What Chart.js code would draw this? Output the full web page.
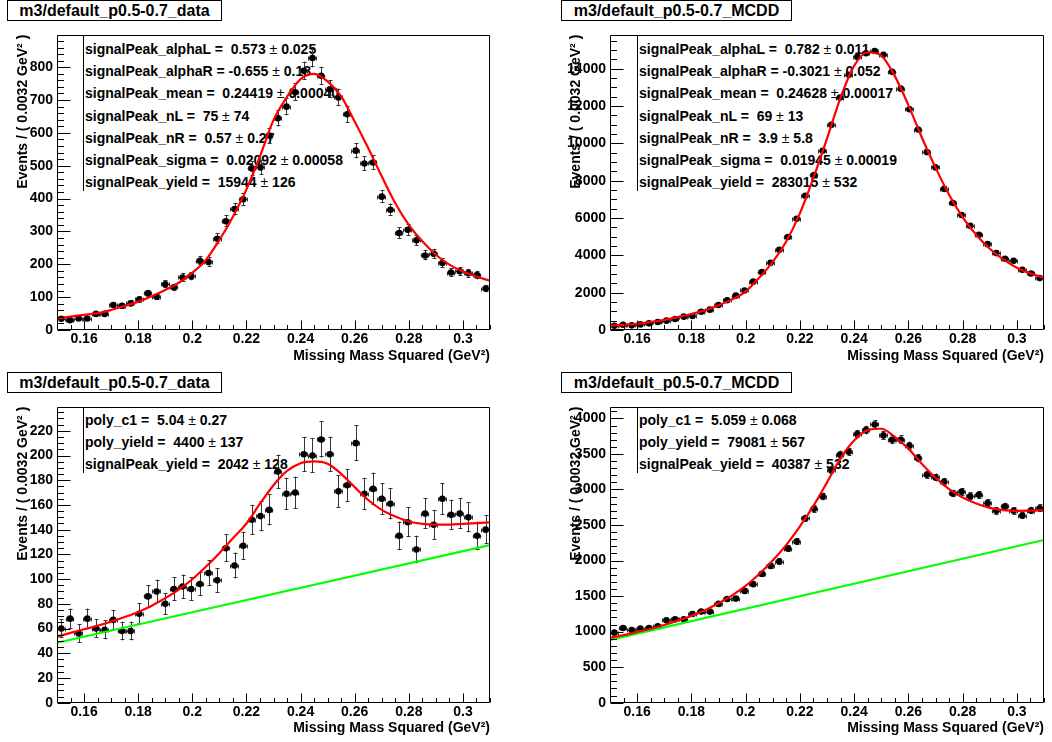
<!DOCTYPE html>
<html><head><meta charset="utf-8">
<script src="https://cdn.jsdelivr.net/npm/chart.js@4.4.1/dist/chart.umd.min.js"></script>
<style>
html,body{margin:0;padding:0;background:#fff;}
body{width:1052px;height:742px;position:relative;overflow:hidden;font-family:"Liberation Sans",Arial,Helvetica,sans-serif;}
.pad{position:absolute;width:526px;height:371px;}
.pad canvas{position:absolute;left:0;top:0;z-index:2;}
.title{position:absolute;border:1px solid #000;background:#fff;font:bold 16px "Liberation Sans",Arial,sans-serif;text-align:center;line-height:19px;box-sizing:border-box;z-index:3;color:#000;}
.stats{position:absolute;z-index:1;border-left:1.5px solid #000;}
.stats div{position:absolute;left:1px;white-space:pre;font:bold 14px "Liberation Sans",Arial,sans-serif;line-height:16px;color:#000;}
.stats span{font-weight:normal;}
</style></head>
<body>
<script>
// ---------------- data ----------------
const binCenters = [0.1516,0.1548,0.1580,0.1612,0.1644,0.1676,0.1708,0.1740,0.1772,0.1804,
 0.1836,0.1868,0.1900,0.1932,0.1964,0.1996,0.2028,0.2060,0.2092,0.2124,
 0.2156,0.2188,0.2220,0.2252,0.2284,0.2316,0.2348,0.2380,0.2412,0.2444,
 0.2476,0.2508,0.2540,0.2572,0.2604,0.2636,0.2668,0.2700,0.2732,0.2764,
 0.2796,0.2828,0.2860,0.2892,0.2924,0.2956,0.2988,0.3020,0.3052,0.3084];
const binHalfWidth = 0.0016;
const xTickVals = [0.16,0.18,0.20,0.22,0.24,0.26,0.28,0.30];
const fitX = [0.150,0.155,0.160,0.165,0.170,0.175,0.180,0.185,0.190,0.195,0.200,0.205,0.210,0.215,0.220,0.225,0.230,0.235,0.240,0.245,0.250,0.255,0.260,0.265,0.270,0.275,0.280,0.285,0.290,0.295,0.300,0.305,0.310];
const bgX = [0.15, 0.31];

const p1Counts = [34,30,35,35,49,49,76,74,81,93, 112,101,139,130,160,164,211,207,278,331, 368,398,492,495,592,645,680,724,789,828, 774,733,708,657,546,507,510,406,366,295, 305,273,227,232,204,175,179,173,167,126];
const p1Errors = [5.8,5.5,5.9,5.9,7.0,7.0,8.7,8.6,9.0,9.6, 10.6,10.0,11.8,11.4,12.6,12.8,14.5,14.4,16.7,18.2, 19.2,19.9,22.2,22.2,24.3,25.4,26.1,26.9,28.1,28.8, 27.8,27.1,26.6,25.6,23.4,22.5,22.6,20.1,19.1,17.2, 17.5,16.5,15.1,15.2,14.3,13.2,13.4,13.2,12.9,11.2];
const p1Fit = [35,41,46,51,61,73,86,103,122,144,174,213,274,345,428,529,639,710,764,780,757,711,635,554,468,386,320,270,229,199,178,163,150];
const p1YTicks = [0,100,200,300,400,500,600,700,800];

const p2Counts = [230,285,250,300,355,430,500,590,715,750, 980,1090,1340,1590,1840,2120,2590,3100,3600,4300, 4980,5960,7190,8300,9600,10990,12450,13670,14630,14830, 14950,14740,13830,12930,11830,10740,9530,8710,7560,6800, 6160,5580,5100,4600,4120,3820,3710,3230,3030,2780];
const p2Errors = [15,17,16,17,19,21,22,24,27,27, 31,33,37,40,43,46,51,56,60,66, 71,77,85,91,98,105,112,117,121,122, 122,121,118,114,109,104,98,93,87,82, 78,75,71,68,64,62,61,57,55,53];
const p2Fit = [232,270,330,420,540,690,860,1060,1320,1640,2060,2800,3650,4750,6250,8150,10250,12450,14150,14880,14700,13600,12050,10300,8700,7250,6050,5100,4350,3780,3330,3030,2800];
const p2YTicks = [0,2000,4000,6000,8000,10000,12000,14000];

const p3Counts = [60,68,56,68,60,59,67,58,58,72, 86,90,80,92,94,92,96,105,99,125, 111,127,148,151,156,187,169,170,201,200, 213,201,171,176,210,169,173,165,161,135, 146,124,153,144,165,152,153,150,135,140];
const p3Errors = [7.7,8.2,7.5,8.2,7.7,7.7,8.2,7.6,7.6,8.5, 9.3,9.5,8.9,9.6,9.7,9.6,9.8,10.2,9.9,11.2, 10.5,11.3,12.2,12.3,12.5,13.7,13.0,13.0,14.2,14.1, 14.6,14.2,13.1,13.3,14.5,13.0,13.2,12.8,12.7,11.6, 12.1,11.1,12.4,12.0,12.8,12.3,12.4,12.2,11.6,11.8];
const p3Fit = [53.5,56.5,59.4,62.3,65.6,69.3,73.4,78.5,84.6,91.5,99.9,110,121,133,145,161,176,187.5,193.8,195.2,193.3,185.2,174.4,164,156,150.6,146.6,144.7,144.1,144.1,144.7,145.3,146];
const p3Bg = [48.5, 127.5];
const p3YTicks = [0,20,40,60,80,100,120,140,160,180,200,220];

const p4Counts = [986,1052,1023,1042,1052,1075,1160,1174,1174,1249, 1282,1282,1390,1460,1465,1573,1667,1812,1925,1986, 2169,2268,2596,2728,2901,3272,3488,3531,3779,3836, 3915,3761,3700,3700,3615,3441,3207,3169,3108,2944, 2967,2906,2925,2808,2700,2761,2700,2634,2704,2737];
const p4Errors = [31,32,32,32,32,33,34,34,34,35, 36,36,37,38,38,40,41,43,44,45, 47,48,51,52,54,57,59,59,61,62, 63,61,61,61,60,59,57,56,56,54, 54,54,54,53,52,53,52,51,52,52];
const p4Fit = [915,950,995,1040,1094,1155,1221,1300,1399,1510,1643,1810,2000,2220,2480,2770,3100,3440,3690,3835,3855,3740,3575,3360,3165,3005,2887,2803,2742,2709,2700,2702,2709];
const p4Bg = [885, 2290];
const p4YTicks = [0,500,1000,1500,2000,2500,3000,3500,4000];

const titleData = 'm3/default_p0.5-0.7_data';
const titleMC = 'm3/default_p0.5-0.7_MCDD';
const xTitle = 'Missing Mass Squared (GeV\u00B2)';
const yTitle = 'Events / ( 0.0032 GeV\u00B2 )';

const p1Stats = [['signalPeak_alphaL','0.573','0.025'],['signalPeak_alphaR','-0.655','0.18'],['signalPeak_mean','0.24419','0.00040'],['signalPeak_nL','75','74'],['signalPeak_nR','0.57','0.27'],['signalPeak_sigma','0.02092','0.00058'],['signalPeak_yield','15944','126']];
const p2Stats = [['signalPeak_alphaL','0.782','0.011'],['signalPeak_alphaR','-0.3021','0.052'],['signalPeak_mean','0.24628','0.00017'],['signalPeak_nL','69','13'],['signalPeak_nR','3.9','5.8'],['signalPeak_sigma','0.01945','0.00019'],['signalPeak_yield','283015','532']];
const p3Stats = [['poly_c1','5.04','0.27'],['poly_yield','4400','137'],['signalPeak_yield','2042','128']];
const p4Stats = [['poly_c1','5.059','0.068'],['poly_yield','79081','567'],['signalPeak_yield','40387','532']];

// ---------------- drawing ----------------
const FONT = '"Liberation Sans", Arial, Helvetica, sans-serif';

function rootPlugin(P) {
  return {
    id: 'rootLook',
    beforeDatasetsDraw(chart) {
      const ctx = chart.ctx, xs = chart.scales.x, ys = chart.scales.y;
      ctx.save();
      ctx.strokeStyle = '#333';
      ctx.lineWidth = 1;
      ctx.beginPath();
      for (let i = 0; i < binCenters.length; i++) {
        const v = P.counts[i], e = P.errors[i];
        const cx = Math.round(xs.getPixelForValue(binCenters[i])) + 0.5;
        const cy = Math.round(ys.getPixelForValue(v)) + 0.5;
        const xl = xs.getPixelForValue(binCenters[i] - binHalfWidth);
        const xr = xs.getPixelForValue(binCenters[i] + binHalfWidth);
        const yt = ys.getPixelForValue(v + e), yb = ys.getPixelForValue(v - e);
        ctx.moveTo(xl, cy); ctx.lineTo(xr, cy);
        ctx.moveTo(Math.round(xl) + 0.5, cy - 2); ctx.lineTo(Math.round(xl) + 0.5, cy + 2);
        ctx.moveTo(Math.round(xr) - 0.5, cy - 2); ctx.lineTo(Math.round(xr) - 0.5, cy + 2);
        ctx.moveTo(cx, yt); ctx.lineTo(cx, yb);
        ctx.moveTo(cx - 2, Math.round(yt) + 0.5); ctx.lineTo(cx + 2, Math.round(yt) + 0.5);
        ctx.moveTo(cx - 2, Math.round(yb) - 0.5); ctx.lineTo(cx + 2, Math.round(yb) - 0.5);
      }
      ctx.stroke();
      ctx.restore();
    },
    afterDraw(chart) {
      const ctx = chart.ctx, xs = chart.scales.x, ys = chart.scales.y, a = chart.chartArea;
      const L = Math.round(a.left) + 0.5, R = Math.round(a.right) - 0.5;
      const T = Math.round(a.top) + 0.5, B = Math.round(a.bottom) - 0.5;
      ctx.save();
      ctx.strokeStyle = '#000';
      ctx.lineWidth = 1;
      ctx.beginPath();
      ctx.rect(L, T, R - L, B - T);
      ctx.stroke();
      ctx.beginPath();
      const yMajLen = 13, yMinLen = 6.5, xMajLen = 9, xMinLen = 4.5;
      P.yTicks.forEach(v => { const p = Math.round(ys.getPixelForValue(v)) + 0.5; ctx.moveTo(L, p); ctx.lineTo(L + yMajLen, p); });
      for (let k = 0; k * P.yMinor <= ys.max + 1e-9; k++) {
        const v = k * P.yMinor;
        if (P.yTicks.some(t => Math.abs(t - v) < 1e-9)) continue;
        const p = Math.round(ys.getPixelForValue(v)) + 0.5;
        ctx.moveTo(L, p); ctx.lineTo(L + yMinLen, p);
      }
      xTickVals.forEach(v => { const p = Math.round(xs.getPixelForValue(v)) + 0.5; ctx.moveTo(p, B); ctx.lineTo(p, B - xMajLen); });
      for (let k = 31; k * 0.005 <= 0.31 + 1e-9; k++) {
        const v = +(k * 0.005).toFixed(4);
        if (v < 0.15 || xTickVals.some(t => Math.abs(t - v) < 1e-9)) continue;
        const p = Math.round(xs.getPixelForValue(v)) + 0.5;
        ctx.moveTo(p, B); ctx.lineTo(p, B - xMinLen);
      }
      ctx.stroke();
      ctx.restore();
    }
  };
}

function buildPanel(P) {
  const pad = document.createElement('div');
  pad.className = 'pad';
  pad.style.left = P.padX + 'px';
  pad.style.top = P.padY + 'px';
  document.body.appendChild(pad);

  const st = document.createElement('div');
  st.className = 'stats';
  const firstC = 49, step = 22.2, n = P.stats.length;
  st.style.left = P.statsX + 'px';
  st.style.top = P.top + 'px';
  st.style.height = (firstC + step * (n - 1) + 8.5 - P.top) + 'px';
  P.stats.forEach((s, k) => {
    const d = document.createElement('div');
    d.style.top = (firstC + step * k - 8 - P.top) + 'px';
    const val = s[1].startsWith('-') ? s[1] : ' ' + s[1];
    d.appendChild(document.createTextNode(s[0] + ' = ' + val + ' '));
    const pm = document.createElement('span'); pm.textContent = '\u00B1'; d.appendChild(pm);
    d.appendChild(document.createTextNode(' ' + s[2]));
    st.appendChild(d);
  });
  pad.appendChild(st);

  const cv = document.createElement('canvas');
  cv.width = 526; cv.height = 371;
  cv.style.width = '526px'; cv.style.height = '371px';
  pad.appendChild(cv);

  const tb = document.createElement('div');
  tb.className = 'title';
  tb.style.left = P.titleX + 'px';
  tb.style.top = P.titleY + 'px';
  tb.style.width = P.titleW + 'px';
  tb.style.height = '21px';
  tb.textContent = P.title;
  pad.appendChild(tb);

  const datasets = [
    { type: 'scatter', data: binCenters.map((x, i) => ({ x: x, y: P.counts[i] })),
      pointRadius: 3.3, pointBackgroundColor: '#000', pointBorderColor: '#000', pointBorderWidth: 0,
      showLine: false, order: 3 }
  ];
  if (P.bg) datasets.push({ type: 'line', data: bgX.map((x, i) => ({ x: x, y: P.bg[i] })),
      borderColor: '#00ff00', borderWidth: 2.2, pointRadius: 0, fill: false, order: 2 });
  datasets.push({ type: 'line', data: fitX.map((x, i) => ({ x: x, y: P.fit[i] })),
      borderColor: '#ff0000', borderWidth: 2.2, pointRadius: 0, fill: false,
      cubicInterpolationMode: 'monotone', order: 1 });

  const bold14 = { family: FONT, size: 14, weight: 'bold' };
  new Chart(cv, {
    type: 'scatter',
    data: { datasets },
    options: {
      responsive: false, animation: false, devicePixelRatio: 1, events: [],
      layout: { autoPadding: false, padding: { left: 0, top: P.top, right: 526 - P.right, bottom: 371 - P.bottom - 38 } },
      plugins: { legend: { display: false }, tooltip: { enabled: false } },
      scales: {
        x: {
          type: 'linear', min: 0.15, max: 0.31,
          grid: { display: false, drawTicks: false }, border: { display: false },
          afterFit(s) { s.height = 38; },
          afterBuildTicks(s) { s.ticks = xTickVals.map(v => ({ value: v })); },
          ticks: { padding: 1, color: '#000', font: bold14, autoSkip: false, maxRotation: 0,
                   callback: v => String(parseFloat(Number(v).toFixed(4))) },
          title: { display: true, text: xTitle, align: 'end', color: '#000', font: bold14, padding: { top: 0, bottom: P.xTitlePad } }
        },
        y: {
          type: 'linear', min: 0, max: P.ymax,
          grid: { display: false, drawTicks: false }, border: { display: false },
          afterFit(s) { s.width = P.left; },
          afterBuildTicks(s) { s.ticks = P.yTicks.map(v => ({ value: v })); },
          ticks: { padding: 4, color: '#000', font: bold14, autoSkip: false, callback: v => String(v) },
          title: { display: true, text: yTitle, align: 'end', color: '#000', font: bold14, padding: { top: P.left - 34 - 8.4, bottom: 0 } }
        }
      }
    },
    plugins: [rootPlugin(P)]
  });
}

buildPanel({ padX: 0, padY: 0, left: 57, right: 490, top: 34.7, bottom: 330, ymax: 899, xTitlePad: 3.6,
  counts: p1Counts, errors: p1Errors, fit: p1Fit, yTicks: p1YTicks, yMinor: 20,
  stats: p1Stats, statsX: 83, title: titleData, titleX: 7, titleY: 0, titleW: 215 });
buildPanel({ padX: 526, padY: 0, left: 84, right: 518, top: 34.7, bottom: 330, ymax: 15820, xTitlePad: 3.6,
  counts: p2Counts, errors: p2Errors, fit: p2Fit, yTicks: p2YTicks, yMinor: 500,
  stats: p2Stats, statsX: 111, title: titleMC, titleX: 35, titleY: 0, titleW: 231 });
buildPanel({ padX: 0, padY: 371, left: 57, right: 490, top: 35.7, bottom: 331.7, ymax: 239.5, xTitlePad: 3.8,
  counts: p3Counts, errors: p3Errors, fit: p3Fit, bg: p3Bg, yTicks: p3YTicks, yMinor: 5,
  stats: p3Stats, statsX: 83, title: titleData, titleX: 7, titleY: 1, titleW: 215 });
buildPanel({ padX: 526, padY: 371, left: 84, right: 518, top: 35.7, bottom: 331.7, ymax: 4165, xTitlePad: 3.8,
  counts: p4Counts, errors: p4Errors, fit: p4Fit, bg: p4Bg, yTicks: p4YTicks, yMinor: 100,
  stats: p4Stats, statsX: 111, title: titleMC, titleX: 35, titleY: 1, titleW: 231 });
</script>
</body></html>
